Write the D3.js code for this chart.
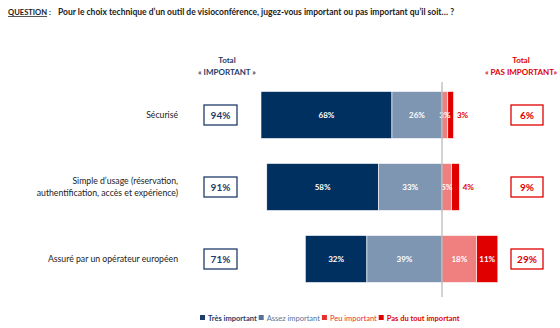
<!DOCTYPE html>
<html>
<head>
<meta charset="utf-8">
<script src="https://cdn.jsdelivr.net/npm/d3@7"></script>
<style>
  body { margin: 0; background: #fff; }
  svg { font-family: Lato, "Open Sans", sans-serif; }
</style>
</head>
<body>
<script>
var categories = ["Sécurisé", "Simple d'usage (réservation, authentification, accès et expérience)", "Assuré par un opérateur européen"],
    catLines = [["Sécurisé"], ["Simple d\u2019usage (réservation,", "authentification, accès et expérience)"], ["Assuré par un opérateur européen"]],
    tresImportant = [68, 58, 32],
    assezImportant = [26, 33, 39],
    peuImportant = [3, 5, 18],
    pasDuTout = [3, 4, 11],
    totalImportant = [94, 91, 71],
    totalPasImportant = [6, 9, 29],
    seriesNames = ["Très important", "Assez important", "Peu important", "Pas du tout important"],
    colors = ["#00305f", "#7f96b3", "#f07f7f", "#e00000"],
    legendColors = ["#1f3d6b", "#5a7196", "#e83030", "#e00000"];

var width = 560, height = 328, barH = 47, centerX = 442;

var svg = d3.select("body").append("svg").attr("width", width).attr("height", height);

var x = d3.scaleLinear().domain([-94, 0]).range([261, centerX]);
var y = d3.scalePoint().domain(categories).range([79, 295]).padding(0.5);

// question
var q = svg.append("text").attr("x", 8).attr("y", 15).attr("font-size", 7.6).attr("font-weight", "bold").attr("fill", "#222");
q.append("tspan").attr("text-decoration", "underline").text("QUESTION");
q.append("tspan").text(" :");
svg.append("text").attr("x", 58).attr("y", 15).attr("font-size", 8.5).attr("font-weight", "bold").attr("fill", "#222")
  .text("Pour le choix technique d\u2019un outil de visioconférence, jugez-vous important ou pas important qu\u2019il soit… ?");

// headers
svg.append("text").attr("x", 227).attr("y", 63).attr("text-anchor", "middle").attr("font-size", 8).attr("font-weight", "bold").attr("fill", "#1f3d6b").text("Total");
svg.append("text").attr("x", 227).attr("y", 75).attr("text-anchor", "middle").attr("font-size", 8).attr("font-weight", "bold").attr("fill", "#1f3d6b").text("« IMPORTANT »");
svg.append("text").attr("x", 521).attr("y", 63).attr("text-anchor", "middle").attr("font-size", 8).attr("font-weight", "bold").attr("fill", "#e00000").text("Total");
svg.append("text").attr("x", 521).attr("y", 75).attr("text-anchor", "middle").attr("font-size", 8).attr("font-weight", "bold").attr("fill", "#e00000").text("« PAS IMPORTANT»");

// stacked rows
var rows = categories.map(function (c, i) {
  var vals = [tresImportant[i], assezImportant[i], peuImportant[i], pasDuTout[i]];
  var start = -totalImportant[i], segs = [];
  vals.forEach(function (v, k) {
    segs.push({k: k, v: v, x0: start, x1: start + v, row: i});
    start += v;
  });
  return {cat: c, i: i, segs: segs};
});

var rowG = svg.selectAll(".row").data(rows).enter().append("g").attr("class", "row");

rowG.selectAll("rect").data(function (d) { return d.segs; }).enter().append("rect")
  .attr("x", function (d) { return x(d.x0); })
  .attr("width", function (d) { return x(d.x1) - x(d.x0); })
  .attr("y", function (d) { return y(categories[d.row]) - barH / 2; })
  .attr("height", barH)
  .attr("fill", function (d) { return colors[d.k]; })
  .attr("stroke", "#fff").attr("stroke-width", 0.6);

rowG.selectAll(".seglab").data(function (d) { return d.segs; }).enter().append("text")
  .attr("class", "seglab")
  .attr("x", function (d) {
    if (d.k === 3 && d.v < 8) return x(d.x1) + 9;
    return (x(d.x0) + x(d.x1)) / 2;
  })
  .attr("y", function (d) { return y(categories[d.row]) + 3; })
  .attr("text-anchor", "middle").attr("font-size", 8).attr("font-weight", "bold")
  .attr("fill", function (d) { return (d.k === 3 && d.v < 8) ? "#e00000" : "#fff"; })
  .text(function (d) { return d.v + "%"; });

// center line
svg.append("line").attr("x1", centerX).attr("x2", centerX).attr("y1", 82).attr("y2", 297)
  .attr("stroke", "#a6a6a6").attr("stroke-width", 1);

// category labels
rowG.each(function (d) {
  var lines = catLines[d.i], g = d3.select(this);
  lines.forEach(function (l, j) {
    g.append("text").attr("x", 178)
      .attr("y", y(d.cat) + 3 + (j - (lines.length - 1) / 2) * 12)
      .attr("text-anchor", "end").attr("font-size", 8.7).attr("fill", "#222").text(l);
  });
});

// total boxes
rowG.append("rect").attr("x", 204).attr("width", 33).attr("y", function (d) { return y(d.cat) - 10; }).attr("height", 20)
  .attr("fill", "#fff").attr("stroke", "#1f3d6b").attr("stroke-width", 1.3);
rowG.append("text").attr("x", 220.5).attr("y", function (d) { return y(d.cat) + 4; })
  .attr("text-anchor", "middle").attr("font-size", 10).attr("font-weight", "bold").attr("fill", "#1f3d6b")
  .text(function (d) { return totalImportant[d.i] + "%"; });
rowG.append("rect").attr("x", 511).attr("width", 32).attr("y", function (d) { return y(d.cat) - 10; }).attr("height", 20)
  .attr("fill", "#fff").attr("stroke", "#e00000").attr("stroke-width", 1.3);
rowG.append("text").attr("x", 527).attr("y", function (d) { return y(d.cat) + 4; })
  .attr("text-anchor", "middle").attr("font-size", 10).attr("font-weight", "bold").attr("fill", "#e00000")
  .text(function (d) { return totalPasImportant[d.i] + "%"; });

// legend
var lx = 200;
seriesNames.forEach(function (n, k) {
  svg.append("rect").attr("x", lx).attr("y", 315).attr("width", 5).attr("height", 5).attr("fill", legendColors[k]);
  var t = svg.append("text").attr("x", lx + 8).attr("y", 320.5).attr("font-size", 7.5)
    .attr("font-weight", (k === 0 || k === 3) ? "bold" : "normal").attr("fill", legendColors[k]).text(n);
  lx += 8 + t.node().getComputedTextLength() + 2;
});
</script>
</body>
</html>
